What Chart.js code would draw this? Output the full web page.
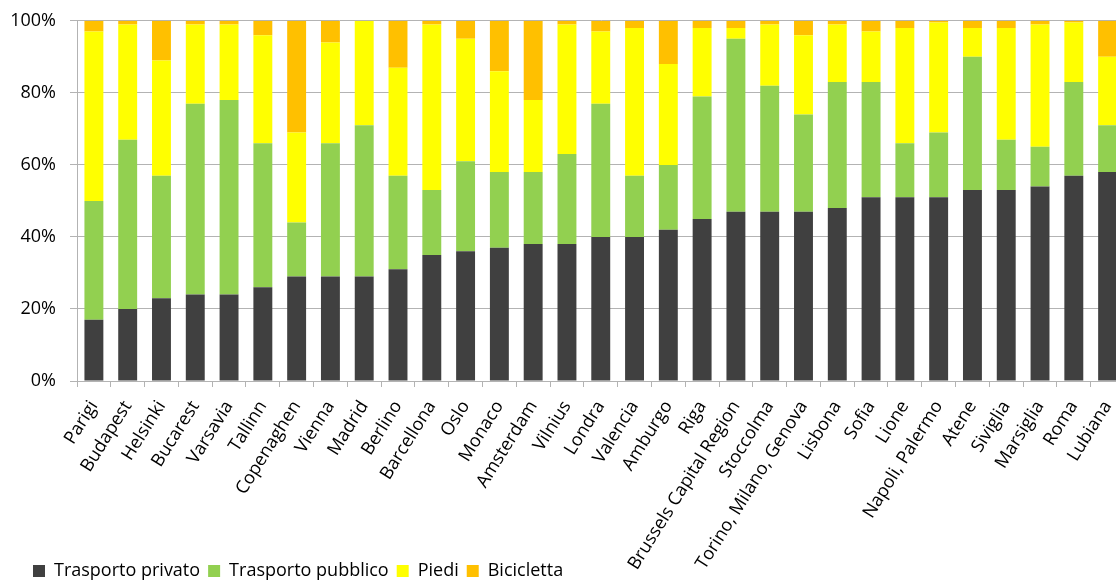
<!DOCTYPE html>
<html><head><meta charset="utf-8">
<script src="https://cdn.jsdelivr.net/npm/chart.js@4.4.0/dist/chart.umd.min.js"></script>
<style>
html,body{margin:0;padding:0;background:#fff;overflow:hidden;width:1116px;height:580px}
#wrap{position:absolute;left:0;top:0;width:1116px;height:580px;overflow:hidden}
#c{position:absolute;left:0;top:-4px}
</style>
</head><body>
<div id="wrap"><canvas id="c" width="1140" height="584"></canvas></div>
<script>
const categories = ["Parigi","Budapest","Helsinki","Bucarest","Varsavia","Tallinn","Copenaghen","Vienna","Madrid","Berlino","Barcellona","Oslo","Monaco","Amsterdam","Vilnius","Londra","Valencia","Amburgo","Riga","Brussels Capital Region","Stoccolma","Torino, Milano, Genova","Lisbona","Sofia","Lione","Napoli, Palermo","Atene","Siviglia","Marsiglia","Roma","Lubiana"];
const trasportoPrivato  = [17,20,23,24,24,26,29,29,29,31,35,36,37,38,38,40,40,42,45,47,47,47,48,51,51,51,53,53,54,57,58];
const trasportoPubblico = [33,47,34,53,54,40,15,37,42,26,18,25,21,20,25,37,17,18,34,48,35,27,35,32,15,18,37,14,11,26,13];
const piedi             = [47,32,32,22,21,30,25,28,29,30,46,34,28,20,36,20,41,28,19,3,17,22,16,14,32,30.5,8,31,34,16.5,19];
const bicicletta        = [3,1,11,1,1,4,31,6,0,13,1,5,14,22,1,3,2,12,2,2,1,4,1,3,2,0.5,2,2,1,0.5,10];
const seriesNames = ["Trasporto privato","Trasporto pubblico","Piedi","Bicicletta"];
const yTickStep = 20;

const colors = ["#404040","#92d050","#ffff00","#ffc000"];
const gridColor = "#b3b3b3";
const FONT = "'Open Sans', sans-serif";
const CANVAS_H = 584;
const AREA_BOTTOM = 385; // canvas coords (canvas is shifted up by 4px)

const seriesData = [trasportoPrivato, trasportoPubblico, piedi, bicicletta];
const datasets = seriesData.map((d, i) => ({
  label: seriesNames[i],
  data: d,
  backgroundColor: colors[i],
  borderWidth: 0,
  categoryPercentage: 1.0,
  barPercentage: 0.56
}));

// place the legend where the reference has it, and let the rotated
// category labels use the full height below the axis
const layoutFix = {
  id: 'layoutFix',
  afterLayout(chart) {
    const lg = chart.legend;
    if (lg) {
      const dx = 25, dy = 10;
      lg.left += dx; lg.right += dx; lg.top += dy; lg.bottom += dy;
      if (lg.legendHitBoxes) lg.legendHitBoxes.forEach(b => { b.left += dx; b.top += dy; });
    }
    const xs = chart.scales.x;
    if (xs) xs.bottom = chart.height;
  }
};

new Chart(document.getElementById('c'), {
  type: 'bar',
  data: { labels: categories, datasets },
  plugins: [layoutFix],
  options: {
    responsive: false,
    animation: false,
    devicePixelRatio: 1,
    layout: { padding: { left: 0, right: 15.5, top: 16, bottom: 0 } },
    plugins: {
      tooltip: { enabled: false },
      legend: {
        position: 'bottom',
        align: 'start',
        labels: {
          boxWidth: 12, boxHeight: 12, padding: 8,
          color: '#000',
          font: { family: FONT, size: 18 }
        }
      }
    },
    scales: {
      x: {
        stacked: true,
        offset: true,
        grid: { display: true, drawOnChartArea: false, drawTicks: true, tickLength: 6, offset: true, color: gridColor },
        border: { color: gridColor },
        ticks: { autoSkip: false, minRotation: 58, maxRotation: 58, color: '#000', padding: 10, font: { family: FONT, size: 18 } },
        afterFit: (s) => {
          const lh = (s.chart.legend && s.chart.legend.height) ? s.chart.legend.height : 40;
          s.height = CANVAS_H - AREA_BOTTOM - lh;
        }
      },
      y: {
        stacked: true,
        min: 0, max: 100,
        grid: { color: gridColor, tickLength: 7, drawTicks: true },
        border: { color: gridColor },
        ticks: { stepSize: yTickStep, color: '#000', padding: 14, font: { family: FONT, size: 18 }, callback: (v) => v + '%' },
        afterFit: (s) => { s.width = 77; }
      }
    }
  }
});
</script>
</body></html>
